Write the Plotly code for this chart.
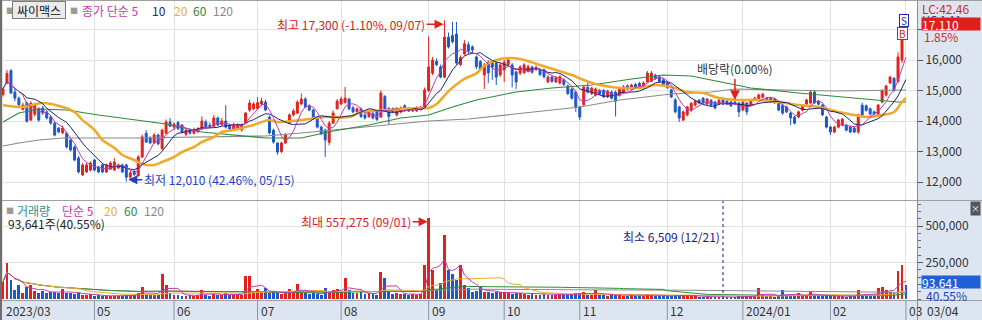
import plotly.graph_objects as go
import pandas as pd

W, H = 982, 320

# ---------------- data ----------------
month_idx = [0, 23, 43, 64, 85, 107, 126, 145, 167, 186, 208, 227]
month_lbl = ["2023/03", "05", "06", "07", "08", "09", "10", "11", "12", "2024/01", "02", "03"]
last_date_lbl = "03/04"
stock_name = "싸이맥스"

opens = [
    14870, 15250, 15650, 14950, 14750, 14380, 14590, 14030, 14220, 14400,
    14430, 14300, 14130, 13930, 13770, 13610, 13600, 13380, 13150, 12790,
    12230, 12330, 12390, 12720, 12490, 12560, 12330, 12420, 12390, 12460,
    12560, 12560, 12160, 12350, 12200, 12820, 13600, 13440, 13280, 13540,
    13100, 13600, 13970, 13800, 13950, 13870, 13560, 13700, 13600, 13650,
    13740, 13970, 13860, 13830, 14100, 13880, 14000, 13830, 13720, 13740,
    13710, 13950, 14360, 14400, 14410, 14560, 14620, 14130, 13700, 13280,
    13000, 13280, 13930, 14200, 14260, 14560, 14720, 14500, 14360, 14100,
    13800, 13700, 13300, 13930, 14400, 14560, 14600, 14720, 14430, 14300,
    14400, 14200, 14150, 14250, 14300, 14130, 14800, 14420, 14400, 14200,
    14300, 14500, 14400, 14330, 14330, 14380, 14460, 15000, 15570, 15950,
    15770, 15440, 16750, 16800, 16850, 15850, 16200, 16500, 16430, 16100,
    15950, 15510, 15930, 15930, 15900, 15510, 15670, 15850, 15840, 15610,
    15570, 15580, 15620, 15770, 15680, 15680, 15680, 15280, 15440, 15280,
    15250, 15350, 15150, 15050, 14950, 14460, 14530, 15100, 14900, 14850,
    15000, 15000, 14790, 14950, 14950, 14850, 14950, 15150, 15050, 15200,
    15230, 15100, 15280, 15300, 15500, 15450, 15350, 15250, 15020, 14690,
    14460, 14030, 14200, 14350, 14520, 14680, 14750, 14560, 14680, 14620,
    14560, 14690, 14650, 14620, 14620, 14590, 14360, 14590, 14520, 14700,
    14700, 14780, 14750, 14650, 14720, 14620, 14520, 14460, 14260, 14130,
    14130, 14360, 14560, 14590, 14950, 14650, 14520, 14130, 13800, 13640,
    13800, 13870, 13870, 13800, 13770, 13640, 14520, 14500, 14400, 14300,
    14200, 14620, 14850, 15250, 15400, 15300, 16000, 17250,
]
highs = [
    15100, 15680, 15700, 15050, 14800, 14600, 14650, 14650, 14600, 14450,
    14500, 14350, 14200, 13980, 13800, 13850, 13650, 13400, 13200, 12850,
    12620, 12620, 12680, 12750, 12530, 12600, 12600, 12680, 12780, 12600,
    12600, 12600, 12380, 12400, 12880, 13550, 13700, 13500, 13600, 13580,
    13750, 14050, 14100, 13950, 14000, 13900, 13750, 13760, 13780, 13800,
    14150, 14050, 13950, 14200, 14150, 14100, 14520, 13900, 13950, 13920,
    13920, 14300, 14700, 14620, 14780, 14760, 14700, 14180, 13750, 13300,
    13320, 13600, 14250, 14400, 14680, 14900, 14780, 14550, 14400, 14150,
    13850, 13750, 14000, 14350, 14720, 14800, 15120, 14760, 14500, 14450,
    14450, 14260, 14350, 14300, 14350, 15000, 14850, 14450, 14450, 14450,
    14480, 14550, 14450, 14450, 14480, 14500, 15100, 16770, 16100, 16050,
    15850, 17300, 16900, 17250, 17250, 16150, 16650, 16600, 16480, 16150,
    16000, 15900, 15980, 15980, 15950, 15900, 16000, 16100, 15900, 15650,
    15830, 15900, 15850, 15820, 15820, 15730, 15720, 15500, 15480, 15480,
    15500, 15400, 15200, 15100, 15000, 14500, 15150, 15250, 15120, 15100,
    15050, 15050, 15020, 15000, 15000, 15100, 15180, 15200, 15220, 15250,
    15280, 15300, 15640, 15640, 15550, 15500, 15400, 15300, 15060, 14750,
    14500, 14350, 14500, 14620, 14700, 14720, 14780, 14760, 14720, 14660,
    14720, 14720, 14680, 14660, 14660, 14620, 14660, 14620, 14730, 14800,
    14900, 14930, 14790, 14790, 14760, 14660, 14560, 14500, 14300, 14170,
    14340, 14560, 14730, 15000, 15000, 14690, 14560, 14170, 13840, 13840,
    14070, 14100, 13910, 13840, 13810, 14240, 14600, 14540, 14440, 14340,
    14560, 15040, 15190, 15480, 15440, 16250, 16900, 17280,
]
lows = [
    14800, 15200, 14880, 14650, 14450, 14350, 13950, 14000, 14150, 13980,
    14200, 14050, 13880, 13500, 13600, 13580, 13100, 13000, 12680, 12280,
    12200, 12300, 12350, 12350, 12290, 12290, 12300, 12400, 12380, 12430,
    12300, 12010, 12100, 12200, 12180, 12800, 13280, 13250, 13250, 13200,
    13050, 13580, 13800, 13700, 13700, 13600, 13500, 13560, 13550, 13600,
    13700, 13750, 13760, 13800, 13830, 13850, 13750, 13650, 13680, 13700,
    13650, 13900, 14300, 14350, 14380, 14500, 14320, 13560, 13260, 12890,
    12950, 13250, 13900, 14150, 14230, 14520, 14420, 14320, 14050, 13760,
    13540, 12820, 13200, 13900, 14380, 14520, 14580, 14350, 14250, 14250,
    14100, 14050, 14100, 14050, 14000, 14100, 14350, 13900, 14250, 14150,
    14250, 14320, 14300, 14300, 14300, 14350, 14430, 14950, 15500, 15800,
    15400, 15400, 16380, 16550, 15850, 15800, 16150, 16200, 16200, 15700,
    15650, 15050, 15250, 15350, 15180, 15450, 15280, 15800, 15100, 15050,
    15500, 15550, 15600, 15550, 15650, 15480, 15400, 15250, 15250, 15250,
    15200, 15150, 14850, 14700, 14300, 14030, 14500, 14900, 14850, 14800,
    14850, 14750, 14750, 14700, 14150, 14800, 14900, 15000, 15000, 15080,
    15100, 15050, 15250, 15280, 15350, 15250, 15150, 15050, 14750, 14250,
    13970, 14000, 14150, 14300, 14480, 14550, 14550, 14520, 14480, 14380,
    14520, 14520, 14520, 14460, 14520, 14130, 14320, 14200, 14480, 14660,
    14660, 14740, 14610, 14610, 14560, 14320, 14200, 14260, 13870, 13890,
    14090, 14320, 14520, 14550, 14560, 14510, 14160, 13760, 13540, 13600,
    13760, 13830, 13660, 13600, 13600, 13580, 14160, 14310, 14190, 14190,
    14160, 14580, 14810, 15210, 14960, 15250, 15900, 16850,
]
closes = [
    15050, 15560, 14920, 14750, 14530, 14520, 13990, 14580, 14520, 14030,
    14260, 14100, 13930, 13540, 13640, 13770, 13150, 13050, 12720, 12330,
    12560, 12560, 12620, 12390, 12330, 12330, 12560, 12620, 12650, 12560,
    12330, 12160, 12300, 12250, 12820, 13480, 13310, 13280, 13540, 13250,
    13700, 13970, 13830, 13900, 13750, 13640, 13700, 13600, 13700, 13740,
    14000, 13800, 13800, 14100, 13870, 14000, 13800, 13740, 13880, 13870,
    13870, 14260, 14590, 14560, 14600, 14650, 14360, 13610, 13310, 12980,
    13280, 13540, 14200, 14330, 14620, 14720, 14460, 14360, 14100, 13800,
    13580, 13380, 13930, 14260, 14650, 14720, 14750, 14400, 14300, 14400,
    14150, 14100, 14300, 14100, 14050, 14920, 14400, 14150, 14300, 14400,
    14430, 14360, 14330, 14400, 14430, 14450, 15020, 15770, 16000, 15850,
    15440, 16750, 16430, 16600, 15900, 16080, 16530, 16300, 16330, 15780,
    15700, 15840, 15580, 15770, 15440, 15840, 15930, 16000, 15510, 15280,
    15770, 15840, 15780, 15600, 15760, 15520, 15450, 15440, 15300, 15420,
    15450, 15200, 14900, 14750, 14450, 14130, 15110, 14950, 15080, 15050,
    14880, 14800, 14980, 14750, 14650, 15050, 15120, 15050, 15180, 15120,
    15150, 15250, 15570, 15570, 15400, 15300, 15200, 15100, 14790, 14300,
    14100, 14300, 14460, 14580, 14650, 14590, 14600, 14720, 14520, 14430,
    14680, 14550, 14560, 14500, 14560, 14300, 14620, 14300, 14690, 14750,
    14850, 14880, 14650, 14750, 14600, 14360, 14260, 14300, 14100, 13930,
    14300, 14520, 14690, 14950, 14600, 14550, 14200, 13800, 13640, 13800,
    14030, 14060, 13700, 13640, 13640, 14200, 14200, 14350, 14230, 14230,
    14520, 15000, 15150, 15440, 15000, 16100, 16800, 17110,
]
volumes = [
    118000, 245000, 130000, 62000, 96000, 42000, 84000, 96000, 54000, 42000,
    54000, 42000, 50000, 50000, 42000, 68000, 42000, 38000, 35000, 44000,
    30000, 26000, 32000, 22000, 25000, 20000, 18000, 24000, 20000, 19000,
    22000, 30000, 25000, 28000, 40000, 84000, 30000, 25000, 28000, 26000,
    171000, 96000, 40000, 30000, 28000, 24000, 22000, 26000, 24000, 30000,
    60000, 28000, 24000, 34000, 28000, 30000, 40000, 26000, 28000, 32000,
    30000, 160000, 160000, 45000, 68000, 40000, 75000, 40000, 45000, 38000,
    35000, 40000, 66000, 45000, 100000, 50000, 40000, 35000, 38000, 32000,
    30000, 76000, 45000, 60000, 68000, 45000, 146000, 60000, 42000, 40000,
    45000, 35000, 40000, 35000, 30000, 187000, 146000, 45000, 35000, 38000,
    32000, 35000, 30000, 32000, 28000, 35000, 233000, 557275, 199000, 60000,
    110000, 438000, 199000, 170000, 130000, 230000, 95000, 75000, 50000, 55000,
    85000, 50000, 45000, 40000, 50000, 45000, 45000, 40000, 35000, 42000,
    38000, 35000, 30000, 32000, 28000, 30000, 35000, 30000, 28000, 30000,
    26000, 28000, 32000, 35000, 42000, 38000, 45000, 30000, 28000, 60000,
    25000, 28000, 24000, 26000, 30000, 25000, 24000, 22000, 25000, 20000,
    22000, 24000, 35000, 30000, 22000, 20000, 18000, 20000, 22000, 28000,
    30000, 25000, 22000, 20000, 18000, 16000, 15000, 14000, 16000, 15000,
    12000, 6509, 12000, 14000, 15000, 18000, 20000, 16000, 18000, 22000,
    75000, 30000, 20000, 18000, 16000, 22000, 60000, 25000, 22000, 20000,
    40000, 25000, 22000, 50000, 30000, 20000, 22000, 25000, 22000, 18000,
    20000, 18000, 16000, 18000, 20000, 60000, 30000, 25000, 22000, 20000,
    75000, 80000, 60000, 45000, 40000, 192000, 230930, 93641,
]

# moving averages of the close whose warm-up lies before the chart
ma20_idx = [0, 5, 10, 15, 18, 20, 23, 25, 28, 30, 33, 35, 38, 40, 43, 45, 48, 50, 53, 55,
            58, 60, 63, 67, 69, 75, 81, 87, 90, 97, 104, 107, 109, 112, 114, 116, 119, 121, 124, 128,
            131, 135, 139, 143, 146, 150, 155, 160, 164, 168, 172, 176, 180, 185, 190, 195, 200, 205, 210, 214,
            217, 221, 224, 226, 227]
ma20_val = [14525, 14460, 14590, 14460, 14295, 14030, 13705, 13377, 13115, 12885, 12720, 12590, 12557, 12656, 12820, 12984, 13148, 13312, 13476, 13640,
            13705, 13770, 13870, 14033, 13967, 14033, 14131, 14131, 14295, 14360, 14426, 14426, 14560, 14980, 15200, 15380, 15560, 15803, 16000, 16066,
            16000, 15836, 15672, 15508, 15345, 15180, 15082, 15082, 15180, 15115, 14951, 14918, 14754, 14689, 14689, 14623, 14525, 14459, 14295, 14197,
            14131, 14197, 14295, 14623, 14754]
ma60_idx = [0, 4, 9, 16, 24, 33, 41, 50, 58, 66, 75, 83, 92, 100, 107, 113, 119, 129, 138, 148,
            158, 166, 173, 178, 188, 200, 213, 225, 227]
ma60_val = [13967, 14263, 14394, 14361, 14197, 14033, 13902, 13640, 13541, 13443, 13443, 13672, 13869, 14099, 14197, 14459, 14689, 14951, 15082, 15181,
            15377, 15509, 15476, 15345, 15082, 14918, 14754, 14623, 14623]
ma120_idx = [0, 4, 9, 15, 33, 50, 58, 66, 75, 83, 92, 100, 107, 117, 134, 145, 155, 168, 178, 184,
             196, 209, 227]
ma120_val = [13180, 13279, 13377, 13443, 13443, 13476, 13476, 13508, 13607, 13705, 13836, 13935, 14000, 14066, 14295, 14459, 14689, 14886, 14951, 15049,
             15017, 14984, 15017]

exdiv_idx = 184
hi_date, lo_date, vmax_date, vmin_date = "09/07", "05/15", "09/01", "12/21"
price_ticks = [12000, 13000, 14000, 15000, 16000, 17000]
price_tick_text = ["12,000", "13,000", "14,000", "15,000", "16,000", ""]
vol_ticks = [250000, 500000]
vol_tick_text = ["250,000", "500,000"]

# ---------------- derived ----------------
n = len(closes)
idx = list(range(n))
cs = pd.Series(closes, dtype=float)
ma5 = cs.rolling(5, min_periods=1).mean()
ma10 = cs.rolling(10, min_periods=1).mean()
vs = pd.Series(volumes, dtype=float)
vma5 = vs.rolling(5, min_periods=1).mean()
vma20 = vs.rolling(20, min_periods=1).mean()
vma60 = vs.rolling(60, min_periods=1).mean()
vma120 = vs.rolling(120, min_periods=1).mean()

RED = "#e3211c"
BLUE = "#1d57c9"
C5, C10, C20, C60, C120 = "#c23aa8", "#1b2470", "#eeaa2a", "#2f8a3a", "#8a8a8a"
GRID = "#e2e2e2"
PANEL = "#dde6f0"
FONT = "Noto Sans CJK KR, Noto Sans, sans-serif"
bar_colors = [RED if c > o else BLUE for o, c in zip(opens, closes)]


def yp(p):
    return 1 - p / H


XR = 917 / W
xrange_ = [-0.75, n - 1 + 2.77]

fig = go.Figure()
fig.add_trace(go.Candlestick(
    x=idx, open=opens, high=highs, low=lows, close=closes,
    increasing=dict(line=dict(color=RED, width=1), fillcolor=RED),
    decreasing=dict(line=dict(color=BLUE, width=1), fillcolor=BLUE),
    whiskerwidth=0, showlegend=False, hoverinfo="skip", xaxis="x", yaxis="y"))
fig.add_trace(go.Scatter(x=ma120_idx, y=ma120_val, mode="lines", line=dict(color=C120, width=1.2), xaxis="x", yaxis="y", hoverinfo="skip"))
fig.add_trace(go.Scatter(x=ma60_idx, y=ma60_val, mode="lines", line=dict(color=C60, width=1.2), xaxis="x", yaxis="y", hoverinfo="skip"))
fig.add_trace(go.Scatter(x=ma20_idx, y=ma20_val, mode="lines", line=dict(color=C20, width=2.6, shape="spline"), xaxis="x", yaxis="y", hoverinfo="skip"))
fig.add_trace(go.Scatter(x=idx, y=ma10, mode="lines", line=dict(color=C10, width=1), xaxis="x", yaxis="y", hoverinfo="skip"))
fig.add_trace(go.Scatter(x=idx, y=ma5, mode="lines", line=dict(color=C5, width=1), xaxis="x", yaxis="y", hoverinfo="skip"))

fig.add_trace(go.Bar(x=idx, y=volumes, marker=dict(color=bar_colors, line=dict(width=0)), width=0.72,
                     xaxis="x2", yaxis="y2", hoverinfo="skip"))
for s, col in [(vma120, C120), (vma60, C60), (vma20, C20), (vma5, C5)]:
    fig.add_trace(go.Scatter(x=idx, y=s, mode="lines", line=dict(color=col, width=1), xaxis="x2", yaxis="y2", hoverinfo="skip"))

axis_font = dict(family=FONT, size=12, color="#333333")
fig.update_layout(
    width=W, height=H, margin=dict(l=0, r=0, t=0, b=0),
    paper_bgcolor="white", plot_bgcolor="rgba(0,0,0,0)", showlegend=False, bargap=0,
    xaxis=dict(domain=[0, XR], range=xrange_, tickvals=month_idx, showticklabels=False, ticks="",
               showgrid=True, gridcolor=GRID, zeroline=False, rangeslider=dict(visible=False), anchor="y"),
    xaxis2=dict(domain=[0, XR], range=xrange_, tickvals=month_idx, showticklabels=False, ticks="",
                showgrid=True, gridcolor=GRID, zeroline=False, anchor="y2", matches="x"),
    yaxis=dict(domain=[yp(200), 1], range=[11410, 17968], side="right", tickvals=price_ticks, ticktext=price_tick_text,
               ticks="outside", ticklen=5, tickcolor="#555", showline=True, linecolor="#8c8c8c",
               showgrid=True, gridcolor=GRID, zeroline=False, tickfont=axis_font, anchor="x", automargin=False),
    yaxis2=dict(domain=[yp(300), yp(201)], range=[-6850, 671200], side="right", tickvals=vol_ticks, ticktext=vol_tick_text,
                ticks="outside", ticklen=5, tickcolor="#555", showline=True, linecolor="#8c8c8c",
                minor=dict(ticks="outside", ticklen=3, tickcolor="#666", dtick=50000, showgrid=False),
                showgrid=True, gridcolor=GRID, zeroline=False, tickfont=axis_font, anchor="x2", automargin=False),
)

shapes = [
    dict(type="rect", xref="paper", yref="paper", x0=XR, x1=1, y0=0, y1=1, fillcolor=PANEL, line=dict(width=0), layer="below"),
    dict(type="rect", xref="paper", yref="paper", x0=0, x1=1, y0=0, y1=yp(301), fillcolor=PANEL, line=dict(width=0), layer="below"),
    dict(type="line", xref="paper", yref="paper", x0=0, x1=1, y0=yp(200.5), y1=yp(200.5), line=dict(color="#a0a0a0", width=1)),
    dict(type="line", xref="paper", yref="paper", x0=0, x1=1, y0=yp(300.5), y1=yp(300.5), line=dict(color="#a0a0a0", width=1)),
    dict(type="line", xref="paper", yref="paper", x0=0, x1=1, y0=yp(0.5), y1=yp(0.5), line=dict(color="#a0a0a0", width=1)),
    dict(type="line", xref="paper", yref="paper", x0=1 / W, x1=1 / W, y0=0, y1=1, line=dict(color="#6e6e6e", width=2)),
    dict(type="line", xref="paper", yref="paper", x0=917.5 / W, x1=917.5 / W, y0=0, y1=yp(200), line=dict(color="#8c8c8c", width=1)),
    dict(type="line", xref="paper", yref="paper", x0=917.5 / W, x1=917.5 / W, y0=0, y1=yp(301), line=dict(color="#8c8c8c", width=1)),
]
for m in month_idx[1:]:
    shapes.append(dict(type="line", xref="x2", yref="paper", x0=m, x1=m, y0=0, y1=yp(301), line=dict(color="#8796a8", width=1)))
vmin_i = volumes.index(min(volumes))
shapes.append(dict(type="line", xref="x2", yref="paper", x0=vmin_i, x1=vmin_i, y0=yp(299), y1=yp(201),
                   line=dict(color="#1a1a8c", width=1, dash="dot")))
fig.update_layout(shapes=shapes)

ann = []


def txt(x, y, s, color, size=12, xanchor="left", **kw):
    d = dict(xref="paper", yref="paper", x=x / W, y=yp(y), text=s, showarrow=False,
             font=dict(family=FONT, size=size, color=color), xanchor=xanchor, yanchor="middle")
    d.update(kw)
    return d


# header of price panel
ann.append(txt(4, 10, "■", "#9a9a9a", size=8))
ann.append(txt(12, 10, stock_name, "#111111", size=12, bordercolor="#7c7c7c", borderwidth=1, bgcolor="#ebebeb",
               borderpad=1, width=50, height=14))
ann.append(txt(68, 10, "■", "#9a9a9a", size=8))
ann.append(txt(80, 10, "종가 단순 5", C5))
ann.append(txt(150, 10, "10", C10))
ann.append(txt(172, 10, "20", "#e0b23a"))
ann.append(txt(191, 10, "60", C60))
ann.append(txt(211, 10, "120", "#888888"))

# header of volume panel
ann.append(txt(4, 210, "■", "#9a9a9a", size=8))
ann.append(txt(15, 210, "거래량", "#2f8b8e"))
ann.append(txt(60, 210, "단순 5", C5))
ann.append(txt(102, 210, "20", "#e0b23a"))
ann.append(txt(122, 210, "60", C60))
ann.append(txt(142, 210, "120", "#888888"))
ann.append(txt(6, 223, f"{volumes[-1]:,}주({volumes[-1] / volumes[-2] * 100:.2f}%)", "#222222"))

# right panel
lc = (closes[-1] / min(lows) - 1) * 100
hc = (max(highs) / closes[-1] - 1) * 100
chg = (closes[-1] / closes[-2] - 1) * 100
ann.append(txt(920, 9, f"LC:{lc:.2f}", "#d42a2a", size=12))
ann.append(txt(920, 19, f"HC:{hc:.2f}", "#2a3ab0", size=11))
ann.append(txt(921, 24.5, f"{closes[-1]:,}", "white", bgcolor="#e0201c", width=58, align="left", borderpad=0, height=12))
ann.append(txt(922, 37, f"{chg:.2f}%", "#d42a2a"))
ann.append(txt(921, 281.5, f"{volumes[-1]:,}", "white", bgcolor="#1f5fd6", width=58, align="left", borderpad=0, height=12))
ann.append(txt(924, 295, f"{volumes[-1] / volumes[-2] * 100:.2f}%", "#2040c0"))
ann.append(txt(925, 310, last_date_lbl, "#333333"))
ann.append(txt(975, 208, "×", "white", size=9, xanchor="center", bgcolor="#555555", borderpad=0))

# month labels
for m, lbl in zip(month_idx, month_lbl):
    ann.append(dict(xref="x2", yref="paper", x=m, y=yp(310), text=lbl, showarrow=False, xanchor="left", yanchor="middle",
                    xshift=1, font=dict(family=FONT, size=12, color="#333333")))

# extremes
hi_i = highs.index(max(highs))
lo_i = lows.index(min(lows))
vmax_i = volumes.index(max(volumes))
ann.append(dict(xref="x", yref="y", x=hi_i, y=max(highs), ax=-18, ay=0, showarrow=True, arrowhead=2, arrowsize=1.2,
                arrowwidth=1.5, arrowcolor=RED, standoff=1, yshift=-4, xanchor="right", yanchor="middle",
                text=f"최고 {max(highs):,} ({(closes[-1] / max(highs) - 1) * 100:.2f}%, {hi_date})",
                font=dict(family=FONT, size=12, color="#d42020")))
ann.append(dict(xref="x", yref="y", x=lo_i, y=min(lows), ax=16, ay=0, showarrow=True, arrowhead=2, arrowsize=1.2,
                arrowwidth=1.5, arrowcolor="#1f3ec8", standoff=2, yshift=2, xanchor="left", yanchor="middle",
                text=f"최저 {min(lows):,} ({lc:.2f}%, {lo_date})",
                font=dict(family=FONT, size=12, color="#1f3ec8")))
ann.append(dict(xref="x2", yref="y2", x=vmax_i, y=max(volumes), ax=-16, ay=0, showarrow=True, arrowhead=2, arrowsize=1.2,
                arrowwidth=1.5, arrowcolor=RED, standoff=1, yshift=-4, xanchor="right", yanchor="middle",
                text=f"최대 {max(volumes):,} ({vmax_date})",
                font=dict(family=FONT, size=12, color="#d42020")))
ann.append(dict(xref="x2", yref="paper", x=vmin_i, y=yp(236), showarrow=False, xanchor="right", yanchor="middle", xshift=-1,
                text=f"최소 {min(volumes):,} ({vmin_date})", font=dict(family=FONT, size=12, color="#1a1a8c")))
ann.append(dict(xref="x", yref="y", x=exdiv_idx, y=highs[exdiv_idx], ax=0, ay=-22, showarrow=True, arrowhead=2, arrowsize=1.3,
                arrowwidth=1.5, arrowcolor=RED, standoff=1, yanchor="bottom", xanchor="center",
                text="배당락(0.00%)", font=dict(family=FONT, size=12, color="#333333")))

# signal markers
ann.append(txt(904, 20.5, "S", "#1a2ab0", size=10, xanchor="center", bordercolor="#1a2ab0", borderwidth=1,
               bgcolor="white", borderpad=0, width=8, height=11))
ann.append(txt(902.5, 34, "B", "#d42020", size=10, xanchor="center", bordercolor="#d42020", borderwidth=1,
               bgcolor="white", borderpad=0, width=9, height=11))

fig.update_layout(annotations=ann)
fig.write_html("out.html", config={"displayModeBar": False})
